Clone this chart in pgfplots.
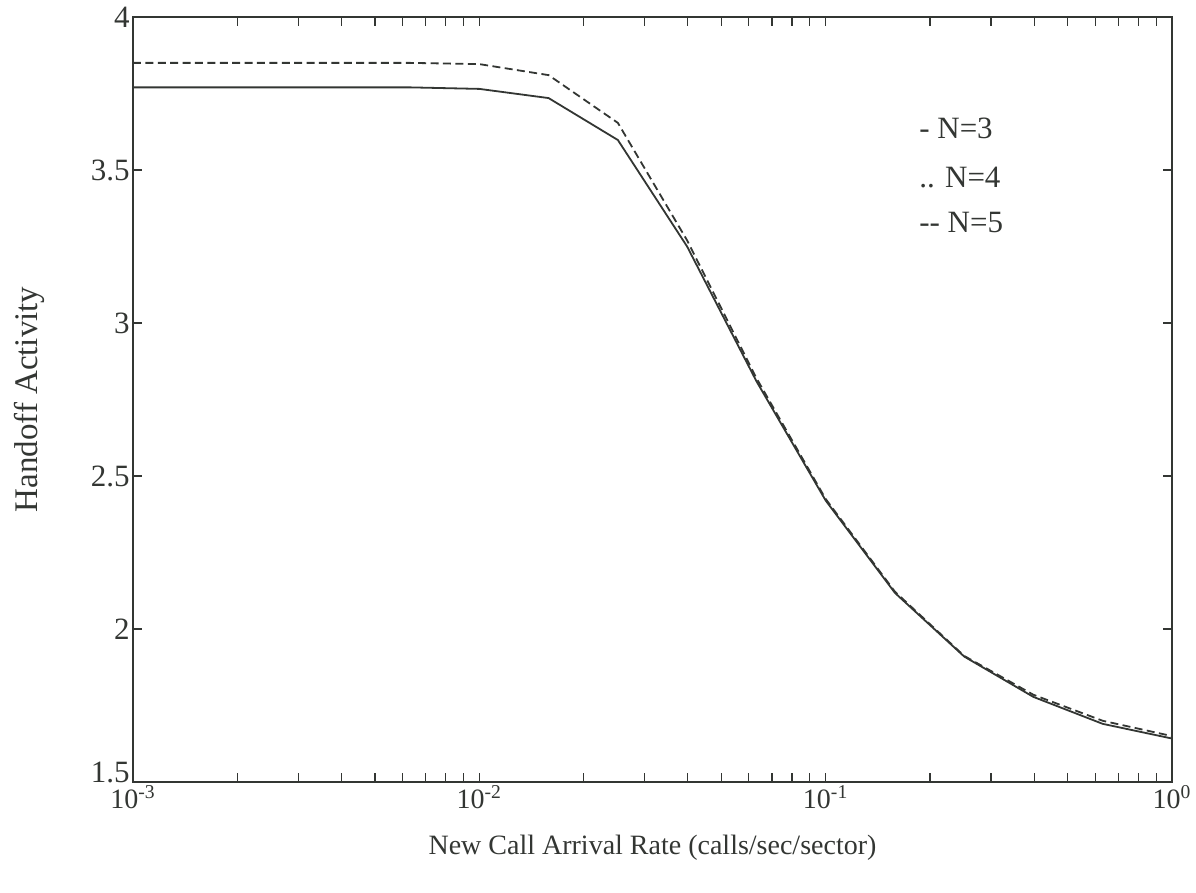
\documentclass[border=0pt]{standalone}
\usepackage{fontspec}
\setmainfont{Liberation Serif}
\usepackage{pgfplots}
\pgfplotsset{compat=1.18}

\definecolor{ink}{HTML}{333633}

\begin{document}
\begin{tikzpicture}
\begin{axis}[
  name=ax,
  width=519.5pt, height=382.5pt,
  scale only axis,
  xmode=log,
  xmin=1e-3, xmax=1,
  ymin=1.5, ymax=4,
  xtick={1e-3,1e-2,1e-1,1},
  xticklabels={10\textsuperscript{-3},10\textsuperscript{-2},10\textsuperscript{-1},10\textsuperscript{0}},
  ytick={1.5,2,2.5,3,3.5,4},
  yticklabels={\raisebox{5pt}[\height][\depth]{1.5},2,2.5,3,3.5,4},
  /pgf/number format/assume math mode=true,
  tick align=inside,
  major tick length=4.5pt,
  minor tick length=4.5pt,
  every tick/.style={ink, line width=0.6pt},
  axis line style={ink, line width=0.7pt},
  xticklabel style={font=\fontsize{14}{16}\selectfont, text=ink, inner sep=1.5pt},
  yticklabel style={font=\fontsize{15.5}{18}\selectfont, text=ink, inner sep=1.5pt},
  clip=false,
]
% N=3
\addplot[ink, line width=0.9pt] coordinates {
  (0.001000,3.770) (0.001585,3.770) (0.002512,3.770) (0.003981,3.770)
  (0.006310,3.770) (0.010000,3.765) (0.015849,3.735) (0.025119,3.598)
  (0.039811,3.250) (0.063096,2.810) (0.100000,2.420) (0.158489,2.118)
  (0.251189,1.910) (0.398107,1.778) (0.630957,1.690) (1.000000,1.642)
};
% N=5
\addplot[ink, line width=0.9pt, dash pattern=on 4pt off 2.2pt] coordinates {
  (0.001000,3.850) (0.001585,3.850) (0.002512,3.850) (0.003981,3.850)
  (0.006310,3.850) (0.010000,3.846) (0.015849,3.810) (0.025119,3.654)
  (0.039811,3.270) (0.063096,2.820) (0.100000,2.425) (0.158489,2.122)
  (0.251189,1.912) (0.398107,1.785) (0.630957,1.700) (1.000000,1.650)
};
% text key in the upper right
\node[anchor=west, text=ink, font=\fontsize{15.5}{18}\selectfont] at (rel axis cs:0.75,0.855) {- N=3};
\node[anchor=west, text=ink, font=\fontsize{15.5}{18}\selectfont] at (rel axis cs:0.75,0.790) {.. N=4};
\node[anchor=west, text=ink, font=\fontsize{15.5}{18}\selectfont] at (rel axis cs:0.75,0.732) {-{}- N=5};
\end{axis}
% axis titles
\node[text=ink, font=\fontsize{14}{16}\selectfont] at ([yshift=-33pt]ax.south) {New Call Arrival Rate (calls/sec/sector)};
\node[text=ink, font=\fontsize{16.5}{19}\selectfont, rotate=90] at ([xshift=-52pt]ax.west) {Handoff Activity};
\pgfresetboundingbox
\path ([xshift=-66.5pt,yshift=-55.5pt]ax.south west) rectangle ([xshift=12pt,yshift=8.5pt]ax.north east);
\end{tikzpicture}
\end{document}
